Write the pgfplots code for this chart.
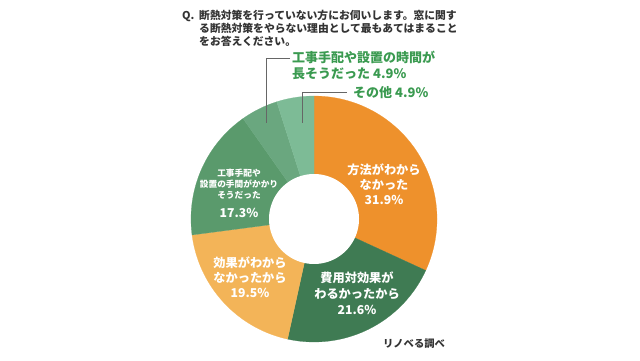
\documentclass[border=0pt]{standalone}
\usepackage{pgfplots}
\pgfplotsset{compat=1.18}
\usepackage{fontspec}
\setmainfont{Noto Sans CJK JP}
\definecolor{cA}{HTML}{EE912C}
\definecolor{cB}{HTML}{3F7B53}
\definecolor{cC}{HTML}{F3B458}
\definecolor{cD}{HTML}{5A9A6C}
\definecolor{cE}{HTML}{6AA77F}
\definecolor{cF}{HTML}{7DBB96}
\definecolor{txt}{HTML}{333333}
\definecolor{gtxt}{HTML}{3A9A50}
% data (percent)
\def\vA{31.9}\def\vB{21.6}\def\vC{19.5}\def\vD{17.3}\def\vE{4.9}\def\vF{4.9}
\pgfmathsetmacro\tot{\vA+\vB+\vC+\vD+\vE+\vF}
\pgfmathsetmacro\k{360/\tot}
\pgfmathsetmacro\aA{90}
\pgfmathsetmacro\aB{\aA-\vA*\k}
\pgfmathsetmacro\aC{\aB-\vB*\k}
\pgfmathsetmacro\aD{\aC-\vC*\k}
\pgfmathsetmacro\aE{\aD-\vD*\k}
\pgfmathsetmacro\aF{\aE-\vE*\k}
\pgfmathsetmacro\aG{\aF-\vF*\k}
\def\cx{314}\def\cy{141}\def\R{123}\def\r{45}
\begin{document}
\begin{tikzpicture}[x=1pt,y=1pt]
\path[use as bounding box] (0,0) rectangle (640,360);
\begin{axis}[at={(0,0)},anchor=south west,width=640pt,height=360pt,scale only axis,
  xmin=0,xmax=640,ymin=0,ymax=360,hide axis,clip=false]
\addplot[fill=cA,draw=cA,line width=0.2pt,domain=\aB:\aA,samples=80] ({\cx+\R*cos(x)},{\cy+\R*sin(x)}) -- (axis cs:\cx,\cy) -- cycle;
\addplot[fill=cB,draw=cB,line width=0.2pt,domain=\aC:\aB,samples=80] ({\cx+\R*cos(x)},{\cy+\R*sin(x)}) -- (axis cs:\cx,\cy) -- cycle;
\addplot[fill=cC,draw=cC,line width=0.2pt,domain=\aD:\aC,samples=80] ({\cx+\R*cos(x)},{\cy+\R*sin(x)}) -- (axis cs:\cx,\cy) -- cycle;
\addplot[fill=cD,draw=cD,line width=0.2pt,domain=\aE:\aD,samples=80] ({\cx+\R*cos(x)},{\cy+\R*sin(x)}) -- (axis cs:\cx,\cy) -- cycle;
\addplot[fill=cE,draw=cE,line width=0.2pt,domain=\aF:\aE,samples=30] ({\cx+\R*cos(x)},{\cy+\R*sin(x)}) -- (axis cs:\cx,\cy) -- cycle;
\addplot[fill=cF,draw=cF,line width=0.2pt,domain=\aG:\aF,samples=30] ({\cx+\R*cos(x)},{\cy+\R*sin(x)}) -- (axis cs:\cx,\cy) -- cycle;
\addplot[fill=white,draw=none,domain=0:360,samples=120] ({\cx+\r*cos(x)},{\cy+\r*sin(x)}) -- cycle;
% leader lines
\addplot[draw=gray!80!black,line width=0.8pt,sharp plot] coordinates {(290,302) (266,302) (266,237)};
\addplot[draw=gray!80!black,line width=0.8pt,sharp plot] coordinates {(347,268) (302,268) (302,237)};
% title
\node[anchor=base west,inner sep=0,text=txt,font=\fontsize{10.8}{13}\selectfont\bfseries] at (axis cs:182,341) {Q.};
\node[anchor=base west,inner sep=0,text=txt,font=\fontsize{10.8}{13}\selectfont\bfseries] at (axis cs:199,341) {断熱対策を行っていない方にお伺いします。窓に関す};
\node[anchor=base west,inner sep=0,text=txt,font=\fontsize{10.8}{13}\selectfont\bfseries] at (axis cs:199,328) {る断熱対策をやらない理由として最もあてはまること};
\node[anchor=base west,inner sep=0,text=txt,font=\fontsize{10.8}{13}\selectfont\bfseries] at (axis cs:199,315) {をお答えください。};
% green labels
\node[anchor=base west,inner sep=0,text=gtxt,font=\fontsize{13}{16}\selectfont\bfseries] at (axis cs:292,298) {工事手配や設置の時間が};
\node[anchor=base west,inner sep=0,text=gtxt,font=\fontsize{13}{16}\selectfont\bfseries] at (axis cs:292,282) {長そうだった 4.9\%};
\node[anchor=base west,inner sep=0,text=gtxt,font=\fontsize{13}{16}\selectfont\bfseries] at (axis cs:353,263) {その他 4.9\%};
% slice labels
\node[align=center,inner sep=0,text=white,font=\fontsize{12.2}{15}\selectfont\bfseries] at (axis cs:384,176) {方法がわから\\なかった\\31.9\%};
\node[align=center,inner sep=0,text=white,font=\fontsize{12.2}{16}\selectfont\bfseries] at (axis cs:357,67) {費用対効果が\\わるかったから\\21.6\%};
\node[align=center,inner sep=0,text=white,font=\fontsize{12.2}{15}\selectfont\bfseries] at (axis cs:250,83) {効果がわから\\なかったから\\19.5\%};
\node[align=center,inner sep=0,text=white,font=\fontsize{8.7}{11}\selectfont\bfseries] at (axis cs:239,176) {工事手配や\\設置の手間がかかり\\そうだった};
\node[inner sep=0,text=white,font=\fontsize{12.2}{15}\selectfont\bfseries] at (axis cs:239,147) {17.3\%};
% source
\node[inner sep=0,text=txt,font=\fontsize{10.3}{12}\selectfont\bfseries] at (axis cs:414,16) {リノベる調べ};
\end{axis}
\end{tikzpicture}
\end{document}
